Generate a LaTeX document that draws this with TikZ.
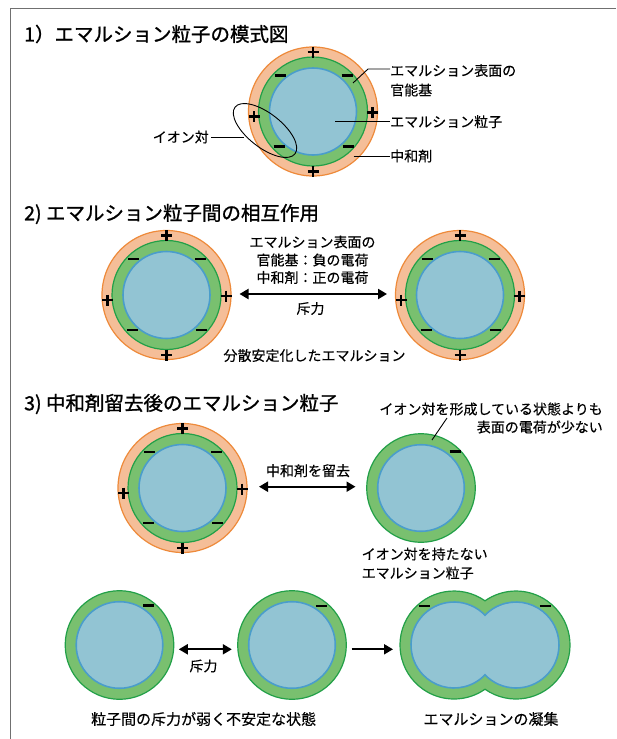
\documentclass[tikz,border=0pt]{standalone}
\usepackage{fontspec}
\setmainfont{Noto Sans CJK JP}[FakeBold=0.35]
\newfontfamily\ttlfont{Noto Sans CJK JP}[FakeBold=1.1]
\usetikzlibrary{arrows.meta}
\definecolor{orfill}{HTML}{F5BE98}
\definecolor{orline}{HTML}{EE8A3A}
\definecolor{grfill}{HTML}{79C06F}
\definecolor{grline}{HTML}{22A048}
\definecolor{blfill}{HTML}{92C4D3}
\definecolor{blline}{HTML}{4A9DCB}
\definecolor{framec}{HTML}{707070}
\tikzset{
  orring/.style={fill=orfill, draw=orline, line width=1.2},
  grring/.style={fill=grfill, draw=grline, line width=1.2},
  blcore/.style={fill=blfill, draw=blline, line width=1.6},
  ttl/.style={inner sep=0, anchor=west, font=\ttlfont\fontsize{19.5}{22}\selectfont},
  lbl/.style={inner sep=0, font=\fontsize{14}{17}\selectfont},
  lblb/.style={inner sep=0, font=\fontsize{15}{18}\selectfont},
  leader/.style={line width=0.9, draw=black},
  dblarrow/.style={line width=2, {Triangle[length=9pt,width=10pt]}-{Triangle[length=9pt,width=10pt]}},
  sglarrow/.style={line width=2, -{Triangle[length=9pt,width=10pt]}},
  pics/plussign/.style={code={\draw[line width=2.5] (-5.5,0)--(5.5,0) (0,-5.5)--(0,5.5);}},
  pics/minussign/.style={code={\draw[line width=2.7] (-5.5,0)--(5.5,0);}},
  pics/fullpart/.style={code={
    \path[orring] (0,0) circle[radius=64.5];
    \path[grring] (0,0) circle[radius=54.5];
    \path[blcore] (0,0) circle[radius=43.5];
    \pic at (0,-59.5) {plussign};
    \pic at (0,60) {plussign};
    \pic at (-59,5) {plussign};
    \pic at (59.5,1) {plussign};
    \pic at (-33,-36) {minussign};
    \pic at (34,-36) {minussign};
    \pic at (-34,35) {minussign};
    \pic at (35,35) {minussign};
  }},
  pics/greenpart/.style={code={
    \path[grring] (0,0) circle[radius=54.3];
    \path[blcore] (0,0) circle[radius=43.3];
  }}
}
\begin{document}
\begin{tikzpicture}[x=1pt,y=-1pt]
\useasboundingbox (0,0) rectangle (616,739);
\fill[white] (0,0) rectangle (616,739);
\draw[framec, line width=1.6] (10.5,739) -- (10.5,8.5) -- (616,8.5);

% ---------- section 1
\node[ttl] (t1) at (24,34) {1）エマルション粒子の模式図};
\pic at (313,111.5) {fullpart};
\draw[line width=0.9] (265,130.5) ellipse[x radius=38, y radius=17, rotate=-38];
\node[lbl, anchor=west] (l1a) at (390,70.5) {エマルション表面の};
\node[lbl, anchor=west] (l1b) at (390,90) {官能基};
\node[lbl, anchor=west] (l1c) at (390,121.7) {エマルション粒子};
\node[lbl, anchor=west] (l1d) at (390,156) {中和剤};
\node[lbl, anchor=east] (l1e) at (209,137) {イオン対};
\coordinate (g1) at (353,83);
\coordinate (g1k) at (368,69);
\coordinate (c1) at (335,121.7);
\coordinate (o1) at (353.5,156);
\coordinate (e1) at (243.5,137);
\draw[leader] (g1) -- (g1k) -- (g1k -| l1a.west);
\draw[leader] (c1) -- (c1 -| l1c.west);
\draw[leader] (o1) -- (o1 -| l1d.west);
\draw[leader] (l1e.east) ++(2,0) -- (e1);

% ---------- section 2
\node[ttl] (t2) at (24,214) {2) エマルション粒子間の相互作用};
\pic at (166.5,295) {fullpart};
\pic at (460,295) {fullpart};
\node[lbl] (l2a) at (312.5,242) {エマルション表面の};
\node[lbl] (l2b) at (312.5,260) {官能基：負の電荷};
\node[lbl] (l2c) at (312.5,277.5) {中和剤：正の電荷};
\coordinate (a2l) at (239.5,294);
\coordinate (a2r) at (387,294);
\draw[dblarrow] (a2l) -- (a2r);
\node[lbl] (l2d) at (310.5,308.5) {斥力};
\node[lbl] (l2e) at (314.5,355.5) {分散安定化したエマルション};

% ---------- section 3
\node[ttl] (t3) at (24,404) {3) 中和剤留去後のエマルション粒子};
\pic at (182.5,488) {fullpart};
\pic at (421,488) {greenpart};
\pic at (455,451.7) {minussign};
\coordinate (a3l) at (259,486.7);
\coordinate (a3r) at (355.5,486.7);
\draw[dblarrow] (a3l) -- (a3r);
\node[lbl] (l3a) at (308,470.7) {中和剤を留去};
\node[lbl, anchor=east] (l3b) at (603,409) {イオン対を形成している状態よりも};
\node[lbl, anchor=east] (l3c) at (603,427) {表面の電荷が少ない};
\coordinate (p3a) at (447,418);
\coordinate (p3b) at (432,440);
\draw[leader] (p3a) -- (p3b);
\node[lbl, anchor=west] (l3d) at (361.5,554) {イオン対を持たない};
\node[lbl, anchor=west] (l3e) at (361.5,573) {エマルション粒子};

% ---------- bottom row
\pic at (119.5,645) {greenpart};
\pic at (148.5,605.7) {minussign};
\pic at (292,645) {greenpart};
\pic at (321.4,606) {minussign};
\coordinate (a4l) at (178.8,649.3);
\coordinate (a4r) at (231.8,649.3);
\draw[dblarrow] (a4l) -- (a4r);
\node[lbl] (l4a) at (203.5,666) {斥力};
\coordinate (a5l) at (351.7,649.3);
\coordinate (a5r) at (393,649.3);
\draw[sglarrow] (a5l) -- (a5r);
% merged particle
\path[grring] (485,600.8) arc[start angle=-54.96, end angle=-305.04, radius=54]
   arc[start angle=125.04, end angle=-125.04, radius=54] -- cycle;
\path[blcore] (485,615.2) arc[start angle=-43.88, end angle=-316.12, radius=43]
   arc[start angle=136.12, end angle=-136.12, radius=43] -- cycle;
\pic at (424.4,606) {minussign};
\pic at (545.4,606) {minussign};
\node[lblb] (l4b) at (203.6,719) {粒子間の斥力が弱く不安定な状態};
\node[lblb] (l4c) at (491,719) {エマルションの凝集};
\end{tikzpicture}
\end{document}
